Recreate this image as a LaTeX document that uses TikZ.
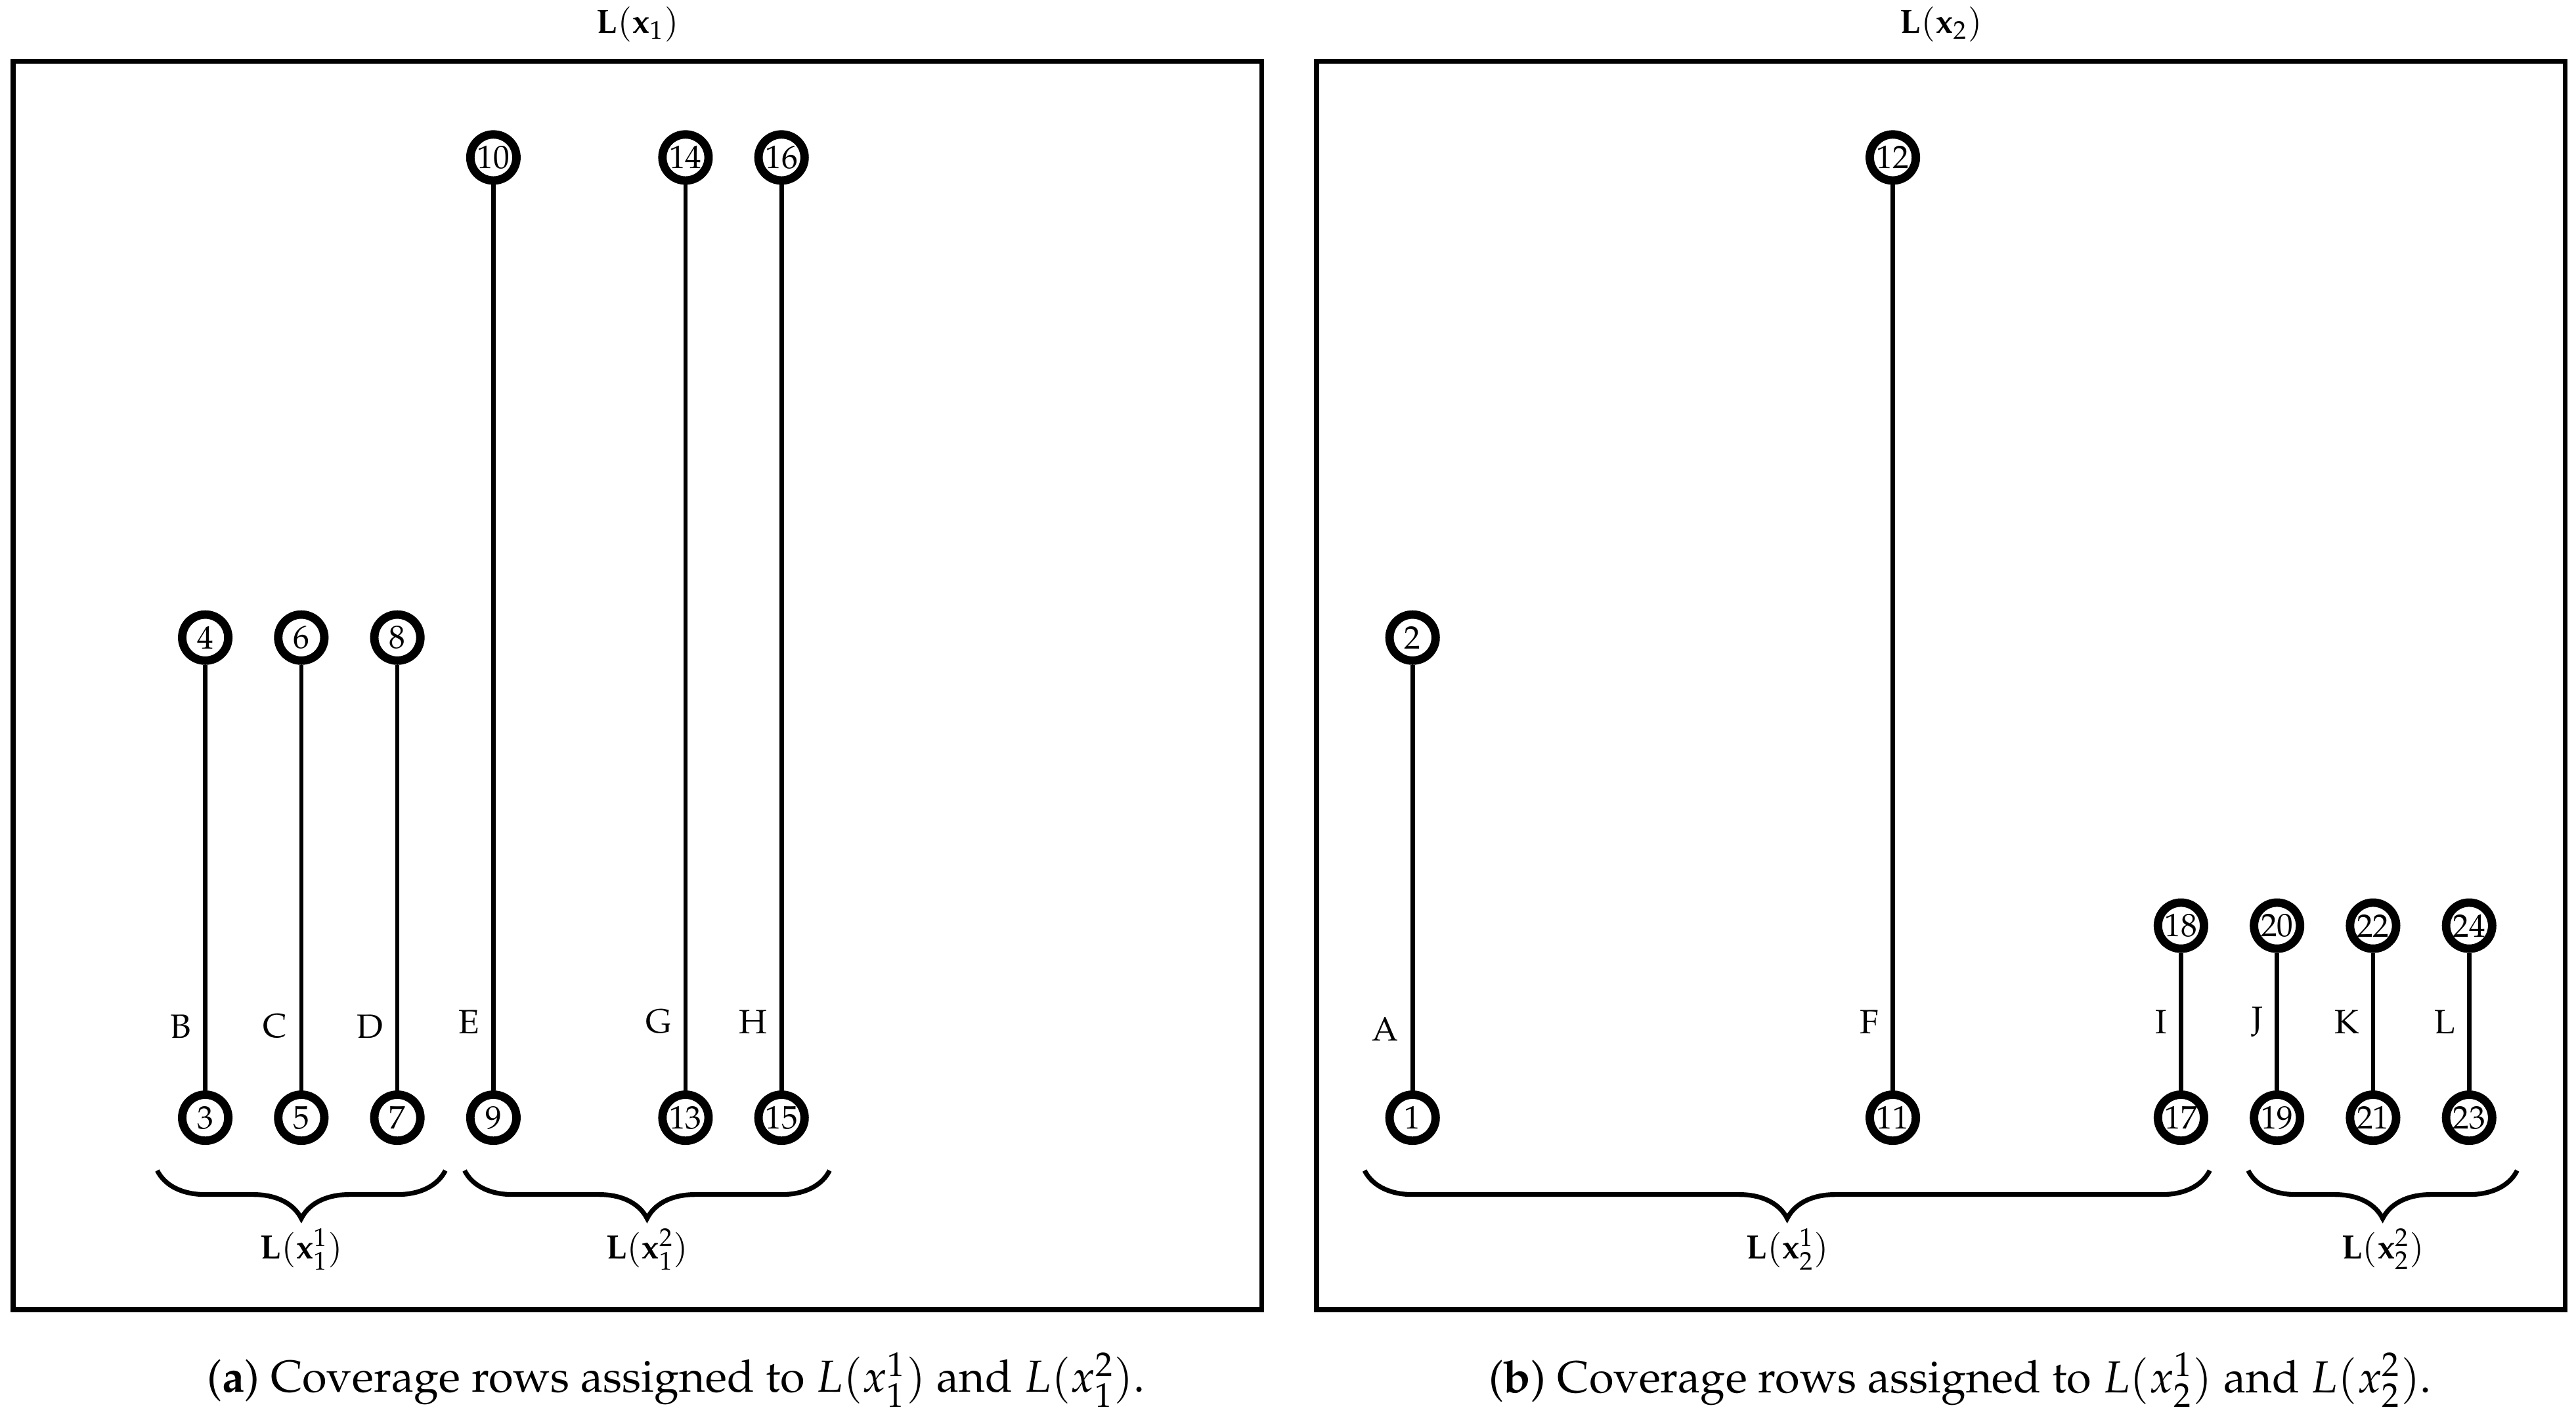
\documentclass[tikz,border=0pt]{standalone}
\usepackage[T1]{fontenc}
\usepackage{mathpazo}
\usepackage{amsmath}
\usetikzlibrary{positioning,decorations.pathreplacing}

\begin{document}
\begin{tikzpicture}[
	vert/.style={circle, draw, line width=2.5pt, fill=white, inner sep=0pt, minimum size=0.48cm, font=\fontsize{9.6}{10}\selectfont},
	aresta/.style={line width=1.3pt},
	rotulo/.style={anchor=east, inner sep=0pt, xshift=-0.14cm, font=\fontsize{10}{12}\selectfont},
	chave/.style={decorate, decoration={brace, mirror, amplitude=0.5cm}, line width=1.4pt},
	conj/.style={font=\fontsize{10}{12}\selectfont},
	legenda/.style={font=\fontsize{13.3}{15}\selectfont}]
	\useasboundingbox (-2.137,-3.10) rectangle (24.683,11.64);

	% quadro a
	\draw[line width=1.5pt] (-2,-2) rectangle (11,11);
	\node[conj, anchor=south] (ta) at (4.5,11.08) {$\mathbf{L}(\mathbf{x}_1)$};

	% vertices a
	\node[vert] (v3) at (0,0) {3};
	\node[vert] (v4) at (0,5) {4};
	\node[vert] (v5) at (1,0) {5};
	\node[vert] (v6) at (1,5) {6};
	\node[vert] (v7) at (2,0) {7};
	\node[vert] (v8) at (2,5) {8};
	\node[vert] (v9) at (3,0) {9};
	\node[vert] (v10) at (3,10) {10};
	\node[vert] (v13) at (5,0) {13};
	\node[vert] (v14) at (5,10) {14};
	\node[vert] (v15) at (6,0) {15};
	\node[vert] (v16) at (6,10) {16};

	% arestas a
	\draw[aresta] (v4) -- (v3);
	\draw[aresta] (v6) -- (v5);
	\draw[aresta] (v8) -- (v7);
	\draw[aresta] (v10) -- (v9);
	\draw[aresta] (v14) -- (v13);
	\draw[aresta] (v16) -- (v15);
	\path (v3.center) ++(0,0.95) node[rotulo] (eB) {B};
	\path (v5.center) ++(0,0.95) node[rotulo] (eC) {C};
	\path (v7.center) ++(0,0.95) node[rotulo] (eD) {D};
	\path (v9.center) ++(0,1) node[rotulo] (eE) {E};
	\path (v13.center) ++(0,1) node[rotulo] (eG) {G};
	\path (v15.center) ++(0,1) node[rotulo] (eH) {H};

	% chaves a
	\draw[chave] (-0.5,-0.55) -- (2.5,-0.55);
	\draw[chave] (2.7,-0.55) -- (6.5,-0.55);
	\node[conj] (la1) at (1,-1.37) {$\mathbf{L}(\mathbf{x}_1^1)$};
	\node[conj] (la2) at (4.6,-1.37) {$\mathbf{L}(\mathbf{x}_1^2)$};
	\node[legenda] (ca) at (4.9,-2.73) {(\textbf{a}) Coverage rows assigned to $L(x_1^1)$ and $L(x_1^2)$.};

	\begin{scope}[xshift=12.57cm]
	% quadro b
	\draw[line width=1.5pt] (-1,-2) rectangle (12,11);
	\node[conj, anchor=south] (tb) at (5.5,11.08) {$\mathbf{L}(\mathbf{x}_2)$};

	% vertices b
	\node[vert] (v1) at (0,0) {1};
	\node[vert] (v2) at (0,5) {2};
	\node[vert] (v11) at (5,0) {11};
	\node[vert] (v12) at (5,10) {12};
	\node[vert] (v17) at (8,0) {17};
	\node[vert] (v18) at (8,2) {18};
	\node[vert] (v19) at (9,0) {19};
	\node[vert] (v20) at (9,2) {20};
	\node[vert] (v21) at (10,0) {21};
	\node[vert] (v22) at (10,2) {22};
	\node[vert] (v23) at (11,0) {23};
	\node[vert] (v24) at (11,2) {24};

	% arestas b
	\draw[aresta] (v2) -- (v1);
	\draw[aresta] (v12) -- (v11);
	\draw[aresta] (v18) -- (v17);
	\draw[aresta] (v20) -- (v19);
	\draw[aresta] (v22) -- (v21);
	\draw[aresta] (v24) -- (v23);
	\path (v1.center) ++(0,0.92) node[rotulo] (eA) {A};
	\path (v11.center) ++(0,1) node[rotulo] (eF) {F};
	\path (v17.center) ++(0,1) node[rotulo] (eI) {I};
	\path (v19.center) ++(0,1) node[rotulo] (eJ) {J};
	\path (v21.center) ++(0,1) node[rotulo] (eK) {K};
	\path (v23.center) ++(0,1) node[rotulo] (eL) {L};

	% chaves b
	\draw[chave] (-0.5,-0.55) -- (8.3,-0.55);
	\draw[chave] (8.7,-0.55) -- (11.5,-0.55);
	\node[conj] (lb1) at (3.9,-1.37) {$\mathbf{L}(\mathbf{x}_2^1)$};
	\node[conj] (lb2) at (10.1,-1.37) {$\mathbf{L}(\mathbf{x}_2^2)$};
	\node[legenda] (cb) at (5.7,-2.73) {(\textbf{b}) Coverage rows assigned to $L(x_2^1)$ and $L(x_2^2)$.};
	\end{scope}
\end{tikzpicture}
\end{document}
